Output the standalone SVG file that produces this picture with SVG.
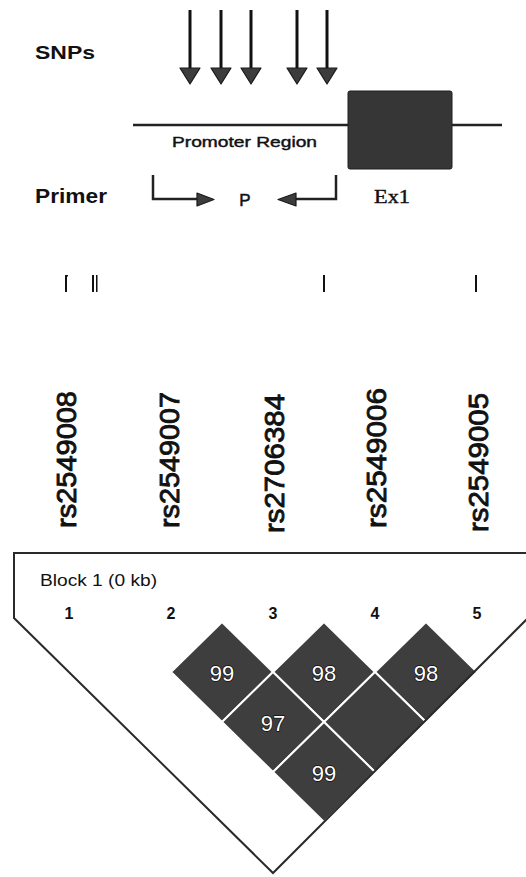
<svg xmlns="http://www.w3.org/2000/svg" width="526" height="877" viewBox="0 0 526 877">
  <style>
    .lbl { font-family: "Liberation Sans", Arial, sans-serif; fill: #111; }
    .bold { font-weight: bold; }
    .snp { stroke: #111; stroke-width: 3; fill: none; }
    .head { fill: #3c3c3c; stroke: #1a1a1a; stroke-width: 1.2; stroke-linejoin: round; }
    .rs { font-family: "Liberation Sans", Arial, sans-serif; font-size: 28px; fill: #111; stroke: #111; stroke-width: 0.9; }
    .tick { fill: #111; }
    .ld { fill: #3e3e3e; stroke: #fff; stroke-width: 2; }
    .ldtxt { font-family: "Liberation Sans", Arial, sans-serif; font-size: 22px; fill: #fff; stroke: #111; stroke-width: 1.5; paint-order: stroke; text-anchor: middle; }
    .num { font-family: "Liberation Sans", Arial, sans-serif; font-size: 16px; font-weight: bold; fill: #111; text-anchor: middle; }
  </style>

  <!-- SNP position arrows -->
  <g id="snp-arrows">
    <g id="snp1"><line class="snp" x1="190" y1="10" x2="190" y2="70"/><polygon class="head" points="180,68 200,68 190,84"/></g>
    <g id="snp2"><line class="snp" x1="221" y1="10" x2="221" y2="70"/><polygon class="head" points="211,68 231,68 221,84"/></g>
    <g id="snp3"><line class="snp" x1="251" y1="10" x2="251" y2="70"/><polygon class="head" points="241,68 261,68 251,84"/></g>
    <g id="snp4"><line class="snp" x1="297" y1="10" x2="297" y2="70"/><polygon class="head" points="287,68 307,68 297,84"/></g>
    <g id="snp5"><line class="snp" x1="327" y1="10" x2="327" y2="70"/><polygon class="head" points="317,68 337,68 327,84"/></g>
  </g>

  <text id="snps-label" class="lbl bold" x="35" y="59" font-size="19" textLength="60" lengthAdjust="spacingAndGlyphs">SNPs</text>
  <text id="primer-label" class="lbl bold" x="35" y="203" font-size="20" textLength="72" lengthAdjust="spacingAndGlyphs">Primer</text>

  <!-- gene: promoter line and exon 1 -->
  <g id="gene">
    <line x1="133" y1="125" x2="502" y2="125" stroke="#222" stroke-width="2.5"/>
    <rect id="exon1" x="348" y="91" width="104" height="78" rx="2" fill="#363636" stroke="#1e1e1e" stroke-width="1"/>
    <text class="lbl" x="172" y="147" font-size="14" textLength="145" lengthAdjust="spacingAndGlyphs" stroke="#111" stroke-width="0.4">Promoter Region</text>
    <text x="374" y="203" font-family="'Liberation Serif', 'Times New Roman', serif" font-size="19" fill="#111" stroke="#111" stroke-width="0.4" textLength="36" lengthAdjust="spacingAndGlyphs">Ex1</text>
  </g>

  <!-- primer pair -->
  <g id="primers">
    <polyline points="153,175 153,199 200,199" fill="none" stroke="#222" stroke-width="2.5"/>
    <polygon class="head" points="197,193 214,199.5 197,206"/>
    <polyline points="336,175 336,199 294,199" fill="none" stroke="#222" stroke-width="2.5"/>
    <polygon class="head" points="296,193 278,199.5 296,206"/>
    <text class="lbl" x="245" y="206" font-size="17" text-anchor="middle" stroke="#111" stroke-width="0.5">P</text>
  </g>

  <!-- marker position ticks -->
  <g id="ticks">
    <rect class="tick" x="65" y="275" width="2" height="17"/>
    <rect class="tick" x="65" y="275" width="3" height="1.5"/>
    <rect class="tick" x="92" y="275" width="2" height="17"/>
    <rect class="tick" x="96" y="275" width="1.5" height="17"/>
    <rect class="tick" x="323" y="275" width="2" height="17"/>
    <rect class="tick" x="475" y="275" width="2" height="17"/>
  </g>

  <!-- marker names -->
  <g id="marker-names">
    <text class="rs" transform="translate(76,528) rotate(-90)" textLength="137" lengthAdjust="spacingAndGlyphs">rs2549008</text>
    <text class="rs" transform="translate(179,528) rotate(-90)" textLength="136" lengthAdjust="spacingAndGlyphs">rs2549007</text>
    <text class="rs" transform="translate(284,533) rotate(-90)" textLength="139" lengthAdjust="spacingAndGlyphs">rs2706384</text>
    <text class="rs" transform="translate(386,528) rotate(-90)" textLength="140" lengthAdjust="spacingAndGlyphs">rs2549006</text>
    <text class="rs" transform="translate(488,532) rotate(-90)" textLength="139" lengthAdjust="spacingAndGlyphs">rs2549005</text>
  </g>

  <!-- LD block -->
  <g id="ld-plot">
    <g id="ld-cells">
      <polygon class="ld" points="222,622 273,672 222,722 171,672"/>
      <polygon class="ld" points="324,622 375,672 324,722 273,672"/>
      <polygon class="ld" points="426,622 477,672 426,722 375,672"/>
      <polygon class="ld" points="273,672 324,722 273,772 222,722"/>
      <polygon class="ld" points="375,672 426,722 375,772 324,722"/>
      <polygon class="ld" points="324,722 375,772 324,822 273,772"/>
      <text class="ldtxt" x="222" y="681">99</text>
      <text class="ldtxt" x="324" y="681">98</text>
      <text class="ldtxt" x="426" y="681">98</text>
      <text class="ldtxt" x="273" y="731">97</text>
      <text class="ldtxt" x="324" y="781">99</text>
    </g>
    <polyline id="ld-outline" points="530,553 14,553 14,618 273,873 530,616" fill="none" stroke="#2a2a2a" stroke-width="2"/>
    <text class="lbl" x="40" y="586" font-size="16" textLength="117" lengthAdjust="spacingAndGlyphs">Block 1 (0 kb)</text>
    <text class="num" x="69" y="619">1</text>
    <text class="num" x="171" y="619">2</text>
    <text class="num" x="273" y="619">3</text>
    <text class="num" x="375" y="619">4</text>
    <text class="num" x="477" y="619">5</text>
  </g>
</svg>
